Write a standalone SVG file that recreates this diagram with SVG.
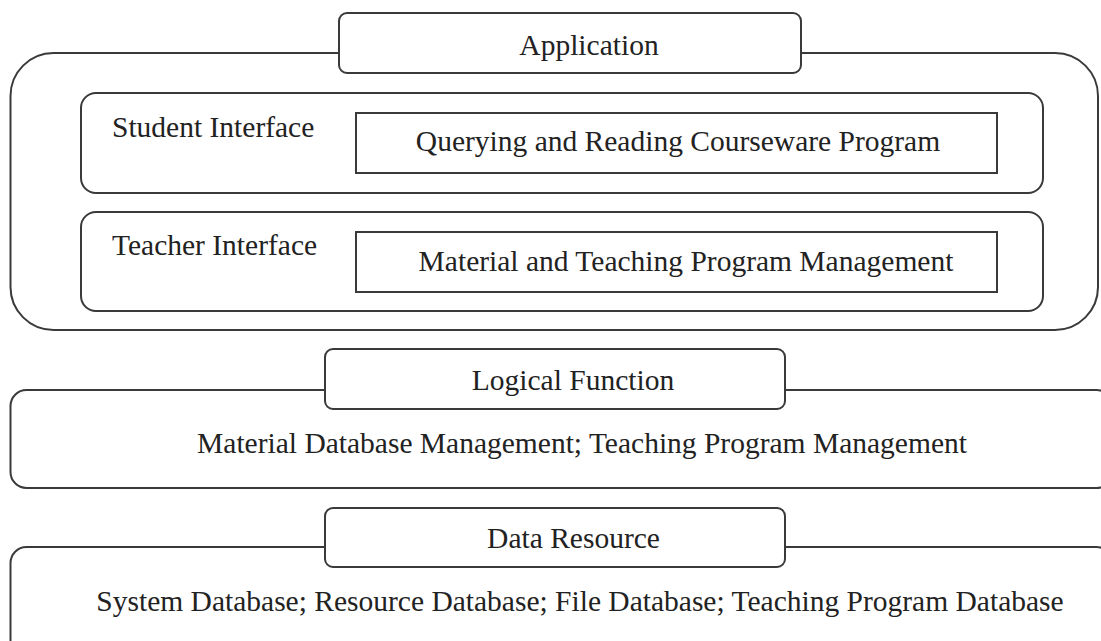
<svg xmlns="http://www.w3.org/2000/svg" width="1101" height="641" viewBox="0 0 1101 641">
<style>
.box{fill:#fff;stroke:#3a3a3a;stroke-width:2}
.t{font-family:"Liberation Serif","Times New Roman",serif;font-size:29.5px;fill:#222}
.m{text-anchor:middle}
</style>
<rect width="1101" height="641" fill="#fff"/>
<g id="application">
<rect class="box" x="10.5" y="53" width="1087.5" height="277" rx="43"/>
<rect class="box" x="339" y="13" width="462" height="60" rx="8"/>
<text class="t m" x="589" y="55">Application</text>
</g>
<g id="student-interface">
<rect class="box" x="81" y="93" width="962" height="100" rx="15"/>
<text class="t" x="112" y="137">Student Interface</text>
</g>
<g id="querying">
<rect class="box" x="356" y="113" width="641" height="60"/>
<text class="t m" x="678" y="151">Querying and Reading Courseware Program</text>
</g>
<g id="teacher-interface">
<rect class="box" x="81" y="212" width="962" height="99" rx="15"/>
<text class="t" x="112" y="255">Teacher Interface</text>
</g>
<g id="material-management">
<rect class="box" x="356" y="232" width="641" height="60"/>
<text class="t m" x="686" y="271">Material and Teaching Program Management</text>
</g>
<g id="logical-function">
<rect class="box" x="10.5" y="390" width="1102" height="98" rx="16"/>
<rect class="box" x="325" y="349" width="460" height="60" rx="8"/>
<text class="t m" x="573" y="390">Logical Function</text>
<text class="t m" x="582" y="453">Material Database Management; Teaching Program Management</text>
</g>
<g id="data-resource">
<rect class="box" x="10.5" y="547" width="1102" height="120" rx="16"/>
<rect class="box" x="325" y="508" width="460" height="59" rx="8"/>
<text class="t m" x="573.5" y="548">Data Resource</text>
<text class="t m" x="580" y="611">System Database; Resource Database; File Database; Teaching Program Database</text>
</g>
<g id="connectors"/>
</svg>
